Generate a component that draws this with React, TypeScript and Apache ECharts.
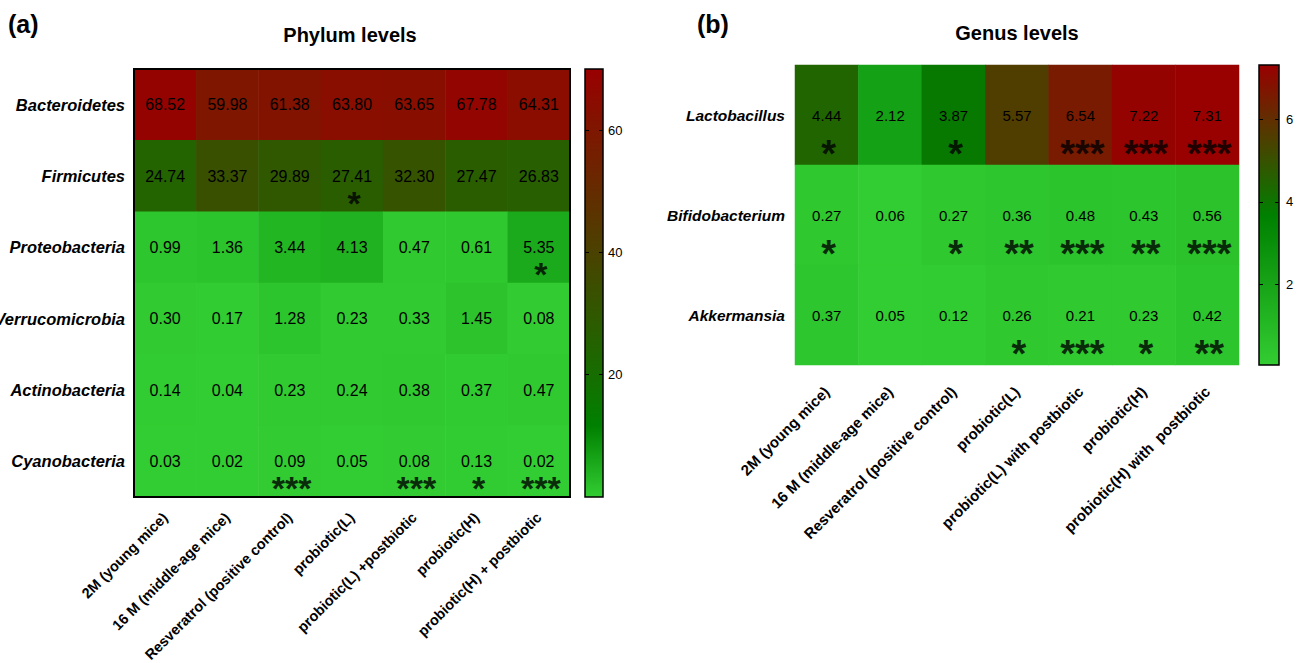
import React, { useEffect, useRef } from "react";
import * as echarts from "echarts";

// ---------- data ----------
const groupsLeft = [
  "2M (young mice)",
  "16 M (middle-age mice)",
  "Resveratrol (positive control)",
  "probiotic(L)",
  "probiotic(L) +postbiotic",
  "probiotic(H)",
  "probiotic(H) + postbiotic",
];
const groupsRight = [
  "2M (young mice)",
  "16 M (middle-age mice)",
  "Resveratrol (positive control)",
  "probiotic(L)",
  "probiotic(L) with postbiotic",
  "probiotic(H)",
  "probiotic(H) with  postbiotic",
];

const phyla = ["Bacteroidetes", "Firmicutes", "Proteobacteria", "Verrucomicrobia", "Actinobacteria", "Cyanobacteria"];
const bacteroidetes = [68.52, 59.98, 61.38, 63.8, 63.65, 67.78, 64.31];
const firmicutes = [24.74, 33.37, 29.89, 27.41, 32.3, 27.47, 26.83];
const proteobacteria = [0.99, 1.36, 3.44, 4.13, 0.47, 0.61, 5.35];
const verrucomicrobia = [0.3, 0.17, 1.28, 0.23, 0.33, 1.45, 0.08];
const actinobacteria = [0.14, 0.04, 0.23, 0.24, 0.38, 0.37, 0.47];
const cyanobacteria = [0.03, 0.02, 0.09, 0.05, 0.08, 0.13, 0.02];
const phylumValues = [bacteroidetes, firmicutes, proteobacteria, verrucomicrobia, actinobacteria, cyanobacteria];

const bacteroidetesStars = ["", "", "", "", "", "", ""];
const firmicutesStars = ["", "", "", "*", "", "", ""];
const proteobacteriaStars = ["", "", "", "", "", "", "*"];
const verrucomicrobiaStars = ["", "", "", "", "", "", ""];
const actinobacteriaStars = ["", "", "", "", "", "", ""];
const cyanobacteriaStars = ["", "", "***", "", "***", "*", "***"];
const phylumStars = [bacteroidetesStars, firmicutesStars, proteobacteriaStars, verrucomicrobiaStars, actinobacteriaStars, cyanobacteriaStars];

const genera = ["Lactobacillus", "Bifidobacterium", "Akkermansia"];
const lactobacillus = [4.44, 2.12, 3.87, 5.57, 6.54, 7.22, 7.31];
const bifidobacterium = [0.27, 0.06, 0.27, 0.36, 0.48, 0.43, 0.56];
const akkermansia = [0.37, 0.05, 0.12, 0.26, 0.21, 0.23, 0.42];
const genusValues = [lactobacillus, bifidobacterium, akkermansia];

const lactobacillusStars = ["*", "", "*", "", "***", "***", "***"];
const bifidobacteriumStars = ["*", "", "*", "**", "***", "**", "***"];
const akkermansiaStars = ["", "", "", "*", "***", "*", "**"];
const genusStars = [lactobacillusStars, bifidobacteriumStars, akkermansiaStars];

const phylumScale = { min: 0, max: 70, ticks: [20, 40, 60] };
const genusScale = { min: 0.05, max: 7.31, ticks: [2, 4, 6] };

// ---------- styles ----------
const phylumColors = ["#32cd32", "#008000", "#1f6600", "#3d4d00", "#5c3300", "#7a1a00", "#990000"];
const genusColors = ["#32cd32", "#008000", "#990000"];
const FONT = "Arial, 'Liberation Sans', sans-serif";

function gradient(colors: string[]) {
  return new echarts.graphic.LinearGradient(
    0, 1, 0, 0,
    colors.map((c, i) => ({ offset: i / (colors.length - 1), color: c }))
  );
}

function heatData(values: number[][]) {
  const out: [number, number, number][] = [];
  values.forEach((row, y) => row.forEach((v, x) => out.push([x, y, v])));
  return out;
}
function starData(stars: string[][]) {
  const out: [number, number, string][] = [];
  stars.forEach((row, y) => row.forEach((s, x) => { if (s) out.push([x, y, s]); }));
  return out;
}

export default function App() {
  const ref = useRef<HTMLDivElement>(null);
  useEffect(() => {
    if (!ref.current) return;
    const chart = echarts.init(ref.current, null, { renderer: "svg" });

    const catX = (gi: number, data: string[], fs: number, margin: number) => ({
      type: "category", gridIndex: gi, data,
      axisLine: { show: false }, axisTick: { show: false }, splitLine: { show: false },
      axisLabel: { interval: 0, rotate: 45, fontWeight: "bold", fontSize: fs, color: "#000", fontFamily: FONT, margin },
    });
    const catY = (gi: number, data: string[], fs: number, margin: number) => ({
      type: "category", gridIndex: gi, data, inverse: true,
      axisLine: { show: false }, axisTick: { show: false }, splitLine: { show: false },
      axisLabel: { interval: 0, fontWeight: "bold", fontStyle: "italic", fontSize: fs, color: "#000", fontFamily: FONT, margin },
    });
    const cbX = (gi: number) => ({ type: "value", gridIndex: gi, show: false, min: 0, max: 1 });
    const cbY = (gi: number, sc: any, pos: string, showLabel: boolean, margin: number) => ({
      type: "value", gridIndex: gi, position: pos, min: sc.min, max: sc.max,
      axisLine: { show: false }, splitLine: { show: false },
      axisTick: { show: true, inside: true, length: 4, customValues: sc.ticks, lineStyle: { color: "#000", width: 1 } },
      axisLabel: { show: showLabel, customValues: sc.ticks, fontSize: 13, color: "#000", fontFamily: FONT, margin },
    });

    chart.setOption({
      animation: false,
      backgroundColor: "#fff",
      grid: [
        { left: 134, top: 69, width: 436, height: 428, outerBoundsMode: "none", containLabel: false, show: true, borderColor: "#000", borderWidth: 2, backgroundColor: "transparent", z: 5 },
        { left: 585, top: 69, width: 18, height: 428, outerBoundsMode: "none", containLabel: false, show: true, borderColor: "#000", borderWidth: 1.5, backgroundColor: gradient(phylumColors) },
        { left: 795, top: 65, width: 444, height: 300, outerBoundsMode: "none", containLabel: false },
        { left: 1259, top: 65, width: 20, height: 300, outerBoundsMode: "none", containLabel: false, show: true, borderColor: "#000", borderWidth: 1.5, backgroundColor: gradient(genusColors) },
      ],
      xAxis: [
        catX(0, groupsLeft, 14.5, 18),
        cbX(1),
        catX(2, groupsRight, 15, 24),
        cbX(3),
      ],
      yAxis: [
        catY(0, phyla, 16.5, 9),
        cbY(1, phylumScale, "left", false, 4),
        cbY(1, phylumScale, "right", true, 5),
        catY(2, genera, 15.5, 10),
        cbY(3, genusScale, "left", false, 4),
        cbY(3, genusScale, "right", true, 7),
      ],
      visualMap: [
        { show: false, type: "continuous", seriesIndex: 0, dimension: 2, min: phylumScale.min, max: phylumScale.max, inRange: { color: phylumColors } },
        { show: false, type: "continuous", seriesIndex: 2, dimension: 2, min: genusScale.min, max: genusScale.max, inRange: { color: genusColors } },
      ],
      series: [
        {
          type: "heatmap", xAxisIndex: 0, yAxisIndex: 0, data: heatData(phylumValues),
          label: { show: true, color: "#000", fontSize: 16, fontFamily: FONT, textBorderWidth: 0, formatter: (p: any) => p.value[2].toFixed(2) },
          emphasis: { disabled: true },
        },
        {
          type: "scatter", xAxisIndex: 0, yAxisIndex: 0, data: starData(phylumStars),
          symbolSize: 1, itemStyle: { color: "transparent" }, silent: true,
          label: { show: true, position: "inside", offset: [2, 27], color: "#000", fontSize: 34, fontWeight: "bold", fontFamily: FONT, textBorderWidth: 0, formatter: (p: any) => p.value[2] },
        },
        {
          type: "heatmap", xAxisIndex: 2, yAxisIndex: 3, data: heatData(genusValues),
          label: { show: true, color: "#000", fontSize: 15, fontFamily: FONT, textBorderWidth: 0, formatter: (p: any) => p.value[2].toFixed(2) },
          emphasis: { disabled: true },
        },
        {
          type: "scatter", xAxisIndex: 2, yAxisIndex: 3, data: starData(genusStars),
          symbolSize: 1, itemStyle: { color: "transparent" }, silent: true,
          label: { show: true, position: "inside", offset: [2, 39], color: "#000", fontSize: 38, fontWeight: "bold", fontFamily: FONT, textBorderWidth: 0, formatter: (p: any) => p.value[2] },
        },
      ],
      graphic: [
        { type: "text", x: 8, y: 24, style: { text: "(a)", font: `bold 25px ${FONT}`, fill: "#000", verticalAlign: "middle" } },
        { type: "text", x: 350, y: 35, style: { text: "Phylum levels", font: `bold 20px ${FONT}`, fill: "#000", align: "center", verticalAlign: "middle" } },
        { type: "text", x: 697, y: 24, style: { text: "(b)", font: `bold 25px ${FONT}`, fill: "#000", verticalAlign: "middle" } },
        { type: "text", x: 1017, y: 33, style: { text: "Genus levels", font: `bold 20px ${FONT}`, fill: "#000", align: "center", verticalAlign: "middle" } },
      ],
    });
    return () => chart.dispose();
  }, []);
  return <div ref={ref} style={{ position: "absolute", left: 0, top: 0, width: 1300, height: 663 }} />;
}
